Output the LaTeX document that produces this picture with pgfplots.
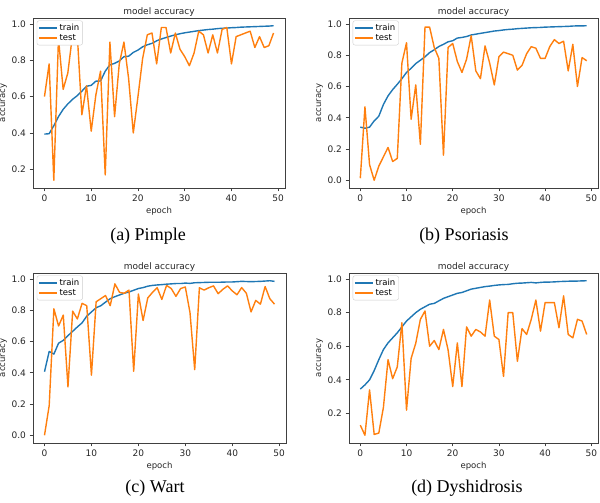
\documentclass[border=0pt]{standalone}
\usepackage{fontspec}
\setmainfont{Liberation Serif}
\newfontfamily\dejavu{DejaVu Sans}
\usepackage{pgfplots}
\usepackage{pgfplotstable}
\pgfplotsset{compat=1.18}
\definecolor{mplblue}{HTML}{1F77B4}
\definecolor{mplorange}{HTML}{FF7F0E}

\pgfplotstableread{
e train test
0 0.394 0.60
1 0.396 0.78
2 0.440 0.14
3 0.490 0.92
4 0.530 0.64
5 0.560 0.73
6 0.585 0.94
7 0.605 0.95
8 0.630 0.50
9 0.657 0.66
10 0.662 0.41
11 0.685 0.61
12 0.686 0.74
13 0.740 0.17
14 0.775 0.90
15 0.783 0.49
16 0.796 0.78
17 0.820 0.90
18 0.822 0.70
19 0.843 0.40
20 0.856 0.60
21 0.874 0.81
22 0.885 0.94
23 0.893 0.95
24 0.907 0.78
25 0.917 0.98
26 0.925 0.98
27 0.933 0.84
28 0.940 0.95
29 0.946 0.86
30 0.951 0.82
31 0.955 0.77
32 0.959 0.84
33 0.963 0.96
34 0.966 0.94
35 0.969 0.84
36 0.971 0.94
37 0.974 0.84
38 0.976 0.97
39 0.977 0.98
40 0.979 0.78
41 0.980 0.93
42 0.982 0.94
43 0.983 0.95
44 0.984 0.96
45 0.985 0.87
46 0.986 0.93
47 0.987 0.87
48 0.988 0.88
49 0.990 0.95
}\dataA

\pgfplotstableread{
e train test
0 0.340 0.013
1 0.333 0.47
2 0.340 0.10
3 0.380 0.00
4 0.410 0.09
5 0.485 0.15
6 0.540 0.21
7 0.580 0.12
8 0.614 0.14
9 0.650 0.75
10 0.690 0.88
11 0.717 0.39
12 0.747 0.61
13 0.768 0.23
14 0.790 0.98
15 0.817 0.98
16 0.835 0.85
17 0.856 0.78
18 0.870 0.16
19 0.886 0.85
20 0.893 0.875
21 0.910 0.76
22 0.914 0.69
23 0.920 0.775
24 0.930 0.925
25 0.935 0.70
26 0.940 0.65
27 0.945 0.86
28 0.950 0.75
29 0.955 0.61
30 0.958 0.79
31 0.962 0.82
32 0.965 0.81
33 0.967 0.80
34 0.970 0.705
35 0.972 0.735
36 0.974 0.81
37 0.976 0.855
38 0.977 0.845
39 0.978 0.78
40 0.980 0.78
41 0.981 0.855
42 0.982 0.90
43 0.983 0.875
44 0.984 0.89
45 0.985 0.70
46 0.987 0.87
47 0.988 0.60
48 0.988 0.785
49 0.989 0.765
}\dataB

\pgfplotstableread{
e train test
0 0.407 0.00
1 0.537 0.19
2 0.520 0.81
3 0.590 0.70
4 0.608 0.77
5 0.638 0.31
6 0.666 0.795
7 0.694 0.745
8 0.720 0.845
9 0.763 0.83
10 0.790 0.385
11 0.817 0.855
12 0.830 0.875
13 0.853 0.895
14 0.875 0.83
15 0.888 0.97
16 0.899 0.915
17 0.910 0.91
18 0.918 0.93
19 0.929 0.41
20 0.940 0.905
21 0.946 0.735
22 0.955 0.88
23 0.960 0.915
24 0.963 0.946
25 0.965 0.87
26 0.968 0.96
27 0.970 0.94
28 0.972 0.89
29 0.972 0.94
30 0.975 0.95
31 0.973 0.785
32 0.977 0.42
33 0.978 0.945
34 0.979 0.93
35 0.980 0.945
36 0.980 0.957
37 0.980 0.907
38 0.981 0.935
39 0.982 0.957
40 0.982 0.925
41 0.984 0.90
42 0.986 0.946
43 0.985 0.91
44 0.984 0.79
45 0.985 0.864
46 0.986 0.84
47 0.988 0.953
48 0.990 0.875
49 0.986 0.84
}\dataC

\pgfplotstableread{
e train test
0 0.345 0.13
1 0.370 0.07
2 0.400 0.34
3 0.455 0.075
4 0.520 0.083
5 0.580 0.236
6 0.620 0.52
7 0.650 0.407
8 0.680 0.477
9 0.715 0.74
10 0.750 0.22
11 0.775 0.528
12 0.800 0.618
13 0.820 0.76
14 0.835 0.81
15 0.850 0.60
16 0.855 0.634
17 0.870 0.58
18 0.885 0.70
19 0.895 0.578
20 0.905 0.36
21 0.915 0.62
22 0.920 0.36
23 0.930 0.715
24 0.940 0.66
25 0.945 0.70
26 0.950 0.685
27 0.955 0.66
28 0.958 0.875
29 0.962 0.66
30 0.965 0.64
31 0.967 0.42
32 0.968 0.80
33 0.972 0.80
34 0.975 0.51
35 0.976 0.705
36 0.978 0.67
37 0.980 0.76
38 0.977 0.875
39 0.980 0.69
40 0.982 0.86
41 0.982 0.86
42 0.983 0.86
43 0.985 0.71
44 0.986 0.90
45 0.987 0.67
46 0.988 0.65
47 0.988 0.76
48 0.989 0.75
49 0.990 0.67
}\dataD

\pgfplotsset{mpl/.style={
  scale only axis, height=170pt,
  xmin=-2.45, xmax=51.45, enlarge y limits=0.05,
  xtick={0,10,20,30,40,50},
  ytick={0,0.2,0.4,0.6,0.8,1.0},
  tick pos=left, tick align=outside, major tick length=3.5pt,
  axis line style={black!75, line width=0.7pt},
  every tick/.style={black!75, line width=0.7pt},
  /pgf/number format/assume math mode=true,
  ticklabel style={font=\dejavu\fontsize{9}{10}\selectfont, text=black!85},
  yticklabel style={/pgf/number format/.cd, fixed, fixed zerofill, precision=1, /tikz/.cd},
  xticklabel style={/pgf/number format/.cd, fixed, precision=0, /tikz/.cd},
  title={model accuracy},
  every axis title shift=0pt,
  title style={font=\dejavu\fontsize{9}{10}\selectfont, text=black!85, at={(0.5,1)}, anchor=south, inner sep=1.5pt},
  xlabel={epoch}, ylabel={accuracy},
  label style={font=\dejavu\fontsize{8.5}{10}\selectfont, text=black!85},
  xlabel style={yshift=2pt},
  ylabel style={yshift=-2pt},
  legend cell align=left,
  legend style={at={(0.015,0.985)}, anchor=north west, font=\dejavu\fontsize{8.5}{10}\selectfont,
    draw=black!20, rounded corners=2pt, fill=white, inner sep=1.2pt, row sep=-1.5pt},
  legend image code/.code={\draw[#1] (0pt,0pt) -- (18pt,0pt);},
  every axis plot/.append style={line width=1.4pt, line join=round},
}}

\begin{document}
\begin{tikzpicture}
\path[use as bounding box] (0,0) rectangle (600pt,503pt);

\begin{axis}[mpl, width=252pt, at={(33pt,315pt)}, anchor=south west]
\addplot[mplblue] table[x=e,y=train]{\dataA};
\addplot[mplorange] table[x=e,y=test]{\dataA};
\legend{train,test}
\end{axis}

\begin{axis}[mpl, width=249pt, at={(349pt,315pt)}, anchor=south west]
\addplot[mplblue] table[x=e,y=train]{\dataB};
\addplot[mplorange] table[x=e,y=test]{\dataB};
\legend{train,test}
\end{axis}

\begin{axis}[mpl, width=253pt, at={(33pt,60pt)}, anchor=south west]
\addplot[mplblue] table[x=e,y=train]{\dataC};
\addplot[mplorange] table[x=e,y=test]{\dataC};
\legend{train,test}
\end{axis}

\begin{axis}[mpl, width=249pt, at={(349pt,60pt)}, anchor=south west]
\addplot[mplblue] table[x=e,y=train]{\dataD};
\addplot[mplorange] table[x=e,y=test]{\dataD};
\legend{train,test}
\end{axis}

\node[font=\fontsize{18}{20}\selectfont] at (148pt,267pt) {(a) Pimple};
\node[font=\fontsize{18}{20}\selectfont] at (464pt,267pt) {(b) Psoriasis};
\node[font=\fontsize{18}{20}\selectfont] at (155pt,15pt) {(c) Wart};
\node[font=\fontsize{18}{20}\selectfont] at (467pt,15pt) {(d) Dyshidrosis};
\end{tikzpicture}
\end{document}
